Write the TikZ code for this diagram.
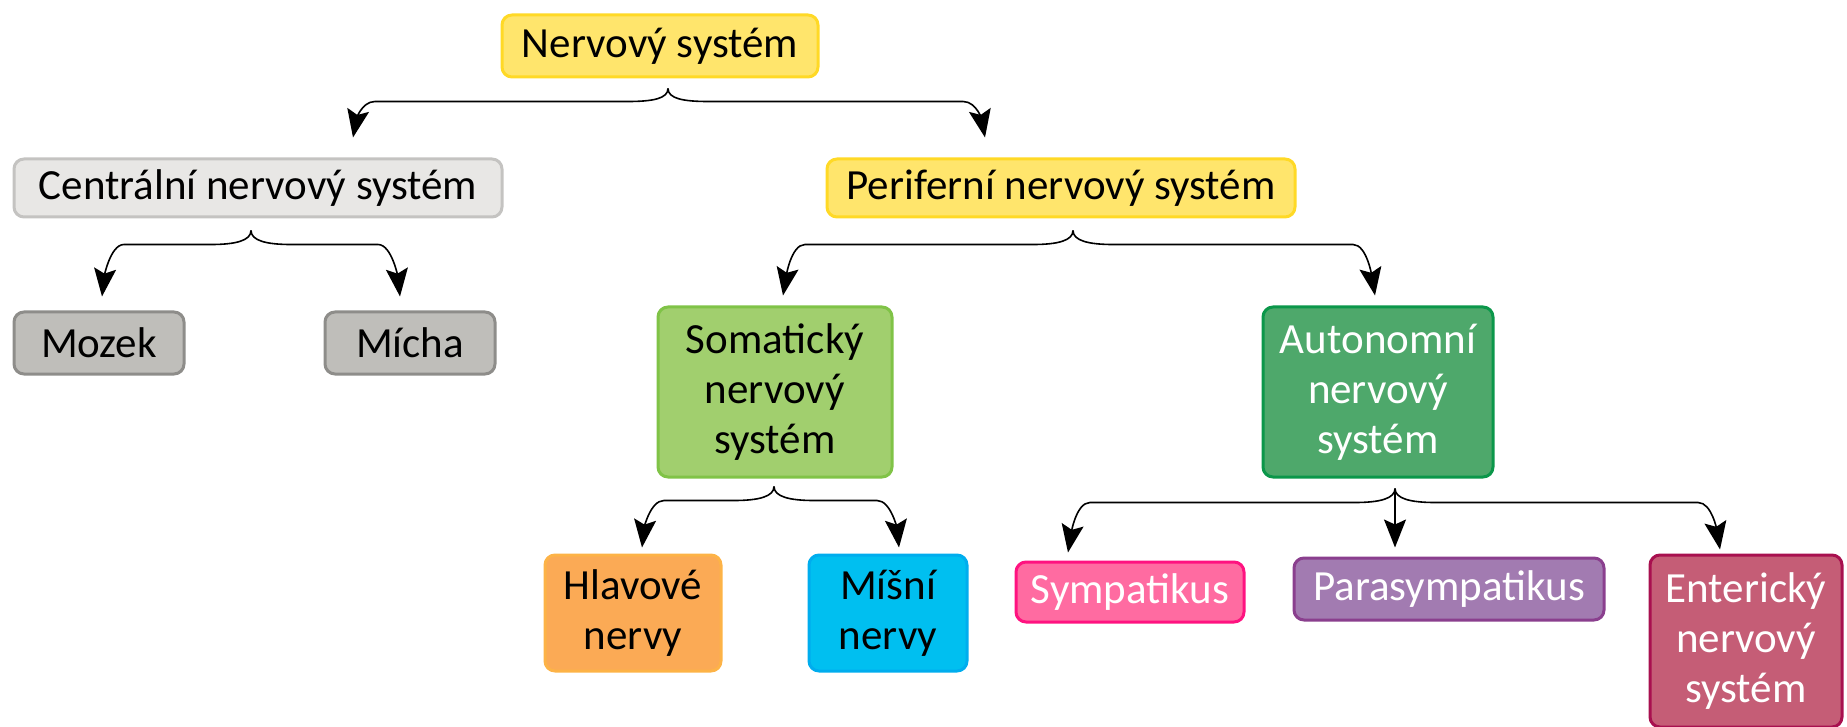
\documentclass[tikz,border=0pt]{standalone}
\usepackage{fontspec}
\setmainfont{Carlito}
\usepackage{tikz}
\usetikzlibrary{arrows.meta,calc}
\definecolor{yelfill}{HTML}{FFE56C}
\definecolor{yeldraw}{HTML}{FFD926}
\definecolor{lgfill}{HTML}{E8E7E5}
\definecolor{lgdraw}{HTML}{C4C3C1}
\definecolor{dgfill}{HTML}{BFBEBA}
\definecolor{dgdraw}{HTML}{8E8D8A}
\definecolor{somfill}{HTML}{A1CF6E}
\definecolor{somdraw}{HTML}{80C347}
\definecolor{autfill}{HTML}{4EA86B}
\definecolor{autdraw}{HTML}{0B974A}
\definecolor{hlafill}{HTML}{FBAA55}
\definecolor{hladraw}{HTML}{FDB347}
\definecolor{misfill}{HTML}{00BFF0}
\definecolor{misdraw}{HTML}{00ADEE}
\definecolor{symfill}{HTML}{FF6BA1}
\definecolor{symdraw}{HTML}{FF1280}
\definecolor{parfill}{HTML}{A27BB1}
\definecolor{pardraw}{HTML}{8A3F8E}
\definecolor{entfill}{HTML}{C55D76}
\definecolor{entdraw}{HTML}{A8104F}
\tikzset{
  box/.style={rounded corners=5pt,line width=1.5pt,inner sep=0pt,align=center,
    font=\fontsize{21.5}{25}\selectfont},
  link/.style={line width=0.8pt,-{Stealth[length=14pt,width=11pt,inset=2.5pt]}}
}

\begin{document}
\begin{tikzpicture}[x=0.5pt,y=-0.5pt]
 \useasboundingbox (0,0) rectangle (1847,727);
 % boxes
 \node[box,fill=yelfill,draw=yeldraw,minimum width=158pt,minimum height=31pt] (ns) at (660,46) {Nervový systém};
 \node[box,fill=lgfill,draw=lgdraw,minimum width=244pt,minimum height=29pt] (cns) at (258,188) {Centrální nervový systém};
 \node[box,fill=yelfill,draw=yeldraw,minimum width=234pt,minimum height=29pt] (pns) at (1061,188) {Periferní nervový systém};
 \node[box,fill=dgfill,draw=dgdraw,minimum width=85pt,minimum height=31pt] (mozek) at (99,343) {Mozek};
 \node[box,fill=dgfill,draw=dgdraw,minimum width=85pt,minimum height=31pt] (micha) at (410,343) {Mícha};
 \node[box,fill=somfill,draw=somdraw,minimum width=117pt,minimum height=85pt] (soma) at (775,392) {Somatický\\nervový\\systém};
 \node[box,fill=autfill,draw=autdraw,text=white,minimum width=115pt,minimum height=85pt] (auto) at (1378,392) {Autonomní\\nervový\\systém};
 \node[box,fill=hlafill,draw=hladraw,minimum width=88pt,minimum height=58pt] (hlav) at (633,613) {Hlavové\\nervy};
 \node[box,fill=misfill,draw=misdraw,minimum width=79pt,minimum height=58pt] (misni) at (888,613) {Míšní\\nervy};
 \node[box,fill=symfill,draw=symdraw,text=white,minimum width=114pt,minimum height=30pt] (sym) at (1130,592) {Sympatikus};
 \node[box,fill=parfill,draw=pardraw,text=white,minimum width=155pt,minimum height=31pt] (para) at (1449,589) {Parasympatikus};
 \node[box,fill=entfill,draw=entdraw,text=white,minimum width=96pt,minimum height=86pt] (ent) at (1746,641) {Enterický\\nervový\\systém};
 % brace points
 \coordinate (ns-c) at ($(ns.south)+(8,10)$);
 \coordinate (cns-c) at ($(cns.south)+(-7,12)$);
 \coordinate (pns-c) at ($(pns.south)+(12,12)$);
 \coordinate (soma-c) at ($(soma.south)+(-1,8)$);
 \coordinate (auto-c) at ($(auto.south)+(17,10)$);
 \coordinate (t1) at ($(cns.north)+(95,-20)$);
 \coordinate (t2) at ($(pns.north)+(-76,-20)$);
 \coordinate (t3) at ($(mozek.north)+(3,-14)$);
 \coordinate (t4) at ($(micha.north)+(-10,-14)$);
 \coordinate (t5) at ($(soma.north)+(8,-10)$);
 \coordinate (t6) at ($(auto.north)+(-3,-10)$);
 \coordinate (t7) at ($(hlav.north)+(9,-6)$);
 \coordinate (t8) at ($(misni.north)+(11,-6)$);
 \coordinate (t9) at ($(sym.north)+(-62,-8)$);
 \coordinate (t10) at ($(para.north)+(-54,-9)$);
 \coordinate (t11) at ($(ent.north)+(-26,-4)$);
 % connectors
 \draw[link] (ns-c) .. controls +(0,10) and +(25,0) .. ++(-40,13) -- ($(t1|-ns-c)+(22,13)$) .. controls +(-14,0) and +(3,-16) .. (t1);
 \draw[link] (ns-c) .. controls +(0,10) and +(-25,0) .. ++(40,13) -- ($(t2|-ns-c)+(-22,13)$) .. controls +(14,0) and +(-3,-16) .. (t2);
 \draw[link] (cns-c) .. controls +(0,10) and +(25,0) .. ++(-40,14) -- ($(t3|-cns-c)+(22,14)$) .. controls +(-14,0) and +(2,-18) .. (t3);
 \draw[link] (cns-c) .. controls +(0,10) and +(-25,0) .. ++(40,14) -- ($(t4|-cns-c)+(-22,14)$) .. controls +(14,0) and +(-2,-18) .. (t4);
 \draw[link] (pns-c) .. controls +(0,10) and +(25,0) .. ++(-40,14) -- ($(t5|-pns-c)+(22,14)$) .. controls +(-14,0) and +(3,-18) .. (t5);
 \draw[link] (pns-c) .. controls +(0,10) and +(-25,0) .. ++(40,14) -- ($(t6|-pns-c)+(-22,14)$) .. controls +(14,0) and +(-3,-18) .. (t6);
 \draw[link] (soma-c) .. controls +(0,10) and +(25,0) .. ++(-40,14) -- ($(t7|-soma-c)+(22,14)$) .. controls +(-14,0) and +(2,-18) .. (t7);
 \draw[link] (soma-c) .. controls +(0,10) and +(-25,0) .. ++(40,14) -- ($(t8|-soma-c)+(-22,14)$) .. controls +(14,0) and +(-2,-18) .. (t8);
 \draw[link] (auto-c) .. controls +(0,10) and +(25,0) .. ++(-40,14) -- ($(t9|-auto-c)+(22,14)$) .. controls +(-14,0) and +(3,-18) .. (t9);
 \draw[link] (auto-c) -- (t10|-auto-c) -- (t10);
 \draw[link] (auto-c) .. controls +(0,10) and +(-25,0) .. ++(40,14) -- ($(t11|-auto-c)+(-22,14)$) .. controls +(14,0) and +(-3,-18) .. (t11);
\end{tikzpicture}
\end{document}
